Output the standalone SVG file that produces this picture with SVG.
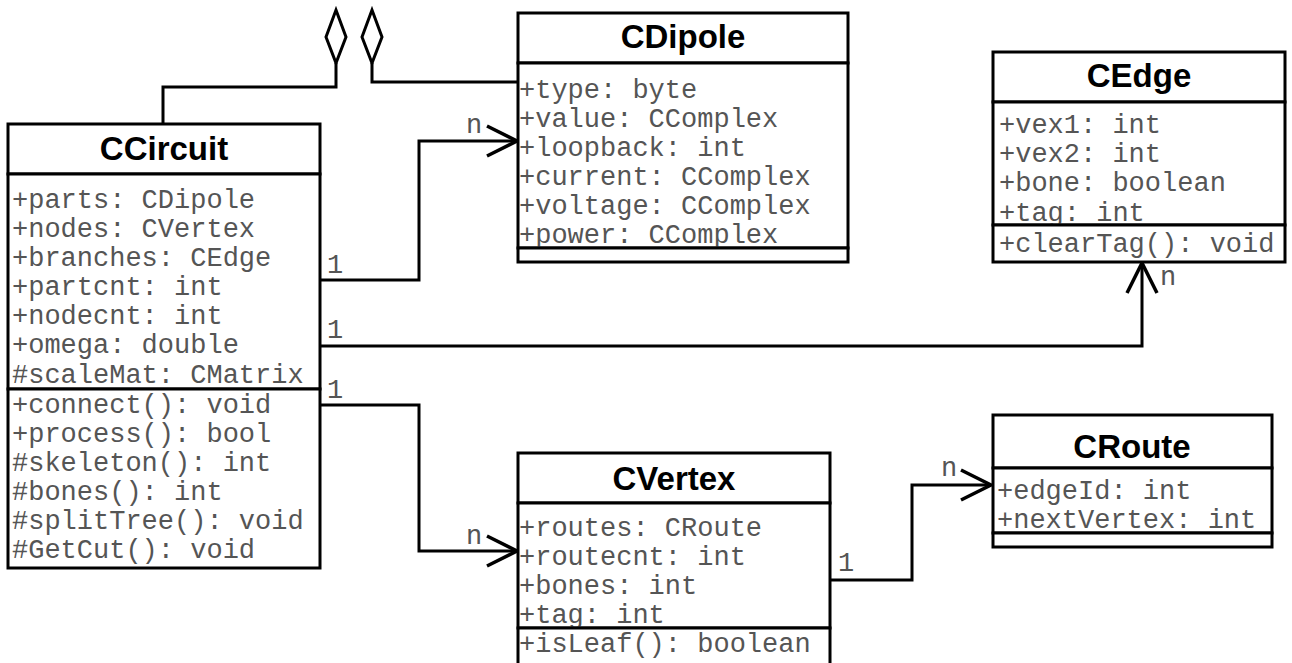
<svg xmlns="http://www.w3.org/2000/svg" width="1292" height="663" viewBox="0 0 1292 663">
  <style>
    .frame { fill: #ffffff; stroke: #000000; stroke-width: 3; }
    .title { font-family: "Liberation Sans", Arial, sans-serif; font-weight: bold; font-size: 33px; fill: #000000; text-anchor: middle; }
    .member { font-family: "Liberation Mono", "Courier New", monospace; font-size: 27px; fill: #555555; }
    .mult { font-family: "Liberation Mono", "Courier New", monospace; font-size: 27px; fill: #555555; }
    .wire { fill: none; stroke: #000000; stroke-width: 3; }
    .assoc { marker-end: url(#openArrow); }
  </style>
  <defs>
    <marker id="openArrow" markerUnits="userSpaceOnUse" markerWidth="40" markerHeight="40" refX="0" refY="0" orient="auto" overflow="visible">
      <path d="M-30,-15 L0,0 L-30,15" fill="none" stroke="#000000" stroke-width="3.5"/>
    </marker>
  </defs>

  <rect width="1292" height="663" fill="#ffffff"/>

  <!-- connectors -->
  <g id="connectors">
    <!-- aggregations with hollow diamonds -->
    <path class="wire" d="M163,124 V87 H336 V63"/>
    <path class="wire" d="M518,82 H372 V63"/>
    <path d="M336,10 L346,37 L336,63 L326,37 Z" fill="#ffffff" stroke="#000000" stroke-width="3"/>
    <path d="M372,10 L382,37 L372,63 L362,37 Z" fill="#ffffff" stroke="#000000" stroke-width="3"/>

    <!-- associations -->
    <path class="wire assoc" d="M320,280 H419 V141 H517"/>
    <path class="wire assoc" d="M320,346 H1142 V263"/>
    <path class="wire assoc" d="M320,405 H419 V551 H517"/>
    <path class="wire assoc" d="M830,580 H912 V485 H991"/>

    <!-- multiplicities -->
    <text class="mult" x="327" y="273">1</text>
    <text class="mult" x="327" y="338">1</text>
    <text class="mult" x="327" y="398">1</text>
    <text class="mult" x="466" y="133">n</text>
    <text class="mult" x="1160" y="285">n</text>
    <text class="mult" x="466" y="544">n</text>
    <text class="mult" x="838" y="571">1</text>
    <text class="mult" x="941" y="476">n</text>
  </g>

  <!-- CCircuit -->
  <g id="CCircuit">
    <rect class="frame" x="8" y="124" width="312" height="50"/>
    <text class="title" x="164" y="160">CCircuit</text>
    <rect class="frame" x="8" y="174" width="312" height="215"/>
    <text class="member" x="12" y="208">+parts: CDipole</text>
    <text class="member" x="12" y="237">+nodes: CVertex</text>
    <text class="member" x="12" y="266">+branches: CEdge</text>
    <text class="member" x="12" y="295">+partcnt: int</text>
    <text class="member" x="12" y="324">+nodecnt: int</text>
    <text class="member" x="12" y="353">+omega: double</text>
    <text class="member" x="12" y="383">#scaleMat: CMatrix</text>
    <rect class="frame" x="8" y="389" width="312" height="179"/>
    <text class="member" x="12" y="413">+connect(): void</text>
    <text class="member" x="12" y="442">+process(): bool</text>
    <text class="member" x="12" y="471">#skeleton(): int</text>
    <text class="member" x="12" y="500">#bones(): int</text>
    <text class="member" x="12" y="529">#splitTree(): void</text>
    <text class="member" x="12" y="558">#GetCut(): void</text>
  </g>

  <!-- CDipole -->
  <g id="CDipole">
    <rect class="frame" x="518" y="13" width="330" height="50"/>
    <text class="title" x="683" y="48">CDipole</text>
    <rect class="frame" x="518" y="63" width="330" height="185"/>
    <text class="member" x="519" y="98">+type: byte</text>
    <text class="member" x="519" y="127">+value: CComplex</text>
    <text class="member" x="519" y="156">+loopback: int</text>
    <text class="member" x="519" y="185">+current: CComplex</text>
    <text class="member" x="519" y="214">+voltage: CComplex</text>
    <text class="member" x="519" y="243">+power: CComplex</text>
    <rect class="frame" x="518" y="248" width="330" height="14"/>
  </g>

  <!-- CEdge -->
  <g id="CEdge">
    <rect class="frame" x="993" y="52" width="292" height="50"/>
    <text class="title" x="1139" y="87">CEdge</text>
    <rect class="frame" x="993" y="102" width="292" height="123"/>
    <text class="member" x="999" y="133">+vex1: int</text>
    <text class="member" x="999" y="162">+vex2: int</text>
    <text class="member" x="999" y="191">+bone: boolean</text>
    <text class="member" x="999" y="221">+tag: int</text>
    <rect class="frame" x="993" y="225" width="292" height="37"/>
    <text class="member" x="999" y="252">+clearTag(): void</text>
  </g>

  <!-- CVertex -->
  <g id="CVertex">
    <rect class="frame" x="518" y="453" width="312" height="50"/>
    <text class="title" x="674" y="490">CVertex</text>
    <rect class="frame" x="518" y="503" width="312" height="125"/>
    <text class="member" x="519" y="536">+routes: CRoute</text>
    <text class="member" x="519" y="565">+routecnt: int</text>
    <text class="member" x="519" y="594">+bones: int</text>
    <text class="member" x="519" y="623">+tag: int</text>
    <rect class="frame" x="518" y="628" width="312" height="50"/>
    <text class="member" x="519" y="652">+isLeaf(): boolean</text>
  </g>

  <!-- CRoute -->
  <g id="CRoute">
    <rect class="frame" x="993" y="415" width="279" height="53"/>
    <text class="title" x="1132" y="458">CRoute</text>
    <rect class="frame" x="993" y="468" width="279" height="65"/>
    <text class="member" x="997" y="499">+edgeId: int</text>
    <text class="member" x="997" y="528">+nextVertex: int</text>
    <rect class="frame" x="993" y="533" width="279" height="14"/>
  </g>
</svg>
